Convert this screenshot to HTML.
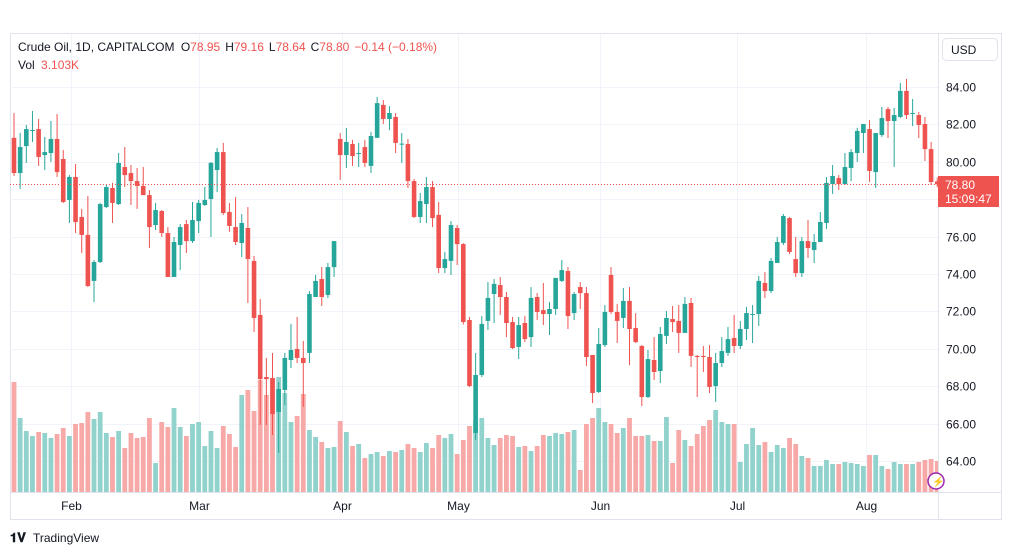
<!DOCTYPE html>
<html><head><meta charset="utf-8">
<style>
body{margin:0;background:#fff;width:1012px;height:555px;overflow:hidden;font-family:"Liberation Sans",sans-serif;}
svg{position:absolute;left:0;top:0}
</style></head>
<body>
<svg id="chart" width="1012" height="555" viewBox="0 0 1012 555">
  <defs><clipPath id="plotclip"><rect x="10" y="34" width="928" height="458"/></clipPath></defs>
  <rect x="10.5" y="33.5" width="991" height="486" fill="#fff" stroke="#e0e3eb"/>
  <g id="grid"></g>
  <g id="vol" clip-path="url(#plotclip)"></g>
  <g id="candles" clip-path="url(#plotclip)"></g>
  <line x1="10" y1="184.5" x2="938" y2="184.5" stroke="#ef5350" stroke-dasharray="1,2" stroke-width="1" id="lastline"/>
  <line x1="938.5" y1="33" x2="938.5" y2="520" stroke="#e0e3eb"/>
  <line x1="10" y1="492.5" x2="1001" y2="492.5" stroke="#e0e3eb"/>
  <g id="yaxis"></g>
  <g id="xaxis"></g>
  <g>
    <rect x="942.5" y="38.5" width="55" height="22" rx="4" fill="#fff" stroke="#e0e3eb"/>
    <text x="951" y="54" font-size="12" fill="#131722" font-family="Liberation Sans, sans-serif">USD</text>
  </g>
  <g id="lastlabel">
    <rect x="938" y="176" width="61" height="31" fill="#ef5350"/>
    <text x="945" y="189" font-size="12" fill="#fff" font-family="Liberation Sans, sans-serif">78.80</text>
    <text x="945" y="203" font-size="12" fill="#fff" font-family="Liberation Sans, sans-serif">15:09:47</text>
  </g>
  <text x="18" y="51" font-size="12" fill="#131722" font-family="Liberation Sans, sans-serif">Crude Oil, 1D, CAPITALCOM <tspan dx="3">O</tspan><tspan fill="#ef5350">78.95</tspan><tspan dx="5">H</tspan><tspan fill="#ef5350">79.16</tspan><tspan dx="5">L</tspan><tspan fill="#ef5350">78.64</tspan><tspan dx="5">C</tspan><tspan fill="#ef5350">78.80</tspan><tspan dx="5" fill="#ef5350">−0.14 (−0.18%)</tspan></text>
  <text x="18" y="69" font-size="12" fill="#131722" font-family="Liberation Sans, sans-serif">Vol <tspan dx="3" fill="#ef5350">3.103K</tspan></text>
  <g>
    <text x="10" y="542" font-size="13" font-weight="bold" fill="#131722" font-family="Liberation Sans, sans-serif">𝟏𝐕</text>
    <text x="33" y="542" font-size="12" fill="#131722" font-family="Liberation Sans, sans-serif">TradingView</text>
  </g>
  <g>
    <circle cx="936" cy="481" r="8" fill="#fff" stroke="#9c27b0" stroke-width="1.5"/>
    <text x="932" y="485" font-size="10" fill="#9c27b0">⚡</text>
  </g>
</svg>
<script>
const opens=[81.28,79.40,80.84,81.65,81.75,80.36,80.47,81.22,80.15,77.96,79.19,77.05,76.09,73.63,74.64,77.58,78.60,77.74,79.72,79.40,78.97,78.71,78.22,76.62,77.37,76.19,73.84,75.55,76.67,75.76,76.83,77.69,78.01,79.56,80.52,77.32,76.51,75.66,76.46,74.70,71.81,68.49,68.44,66.62,67.80,69.40,69.99,69.51,69.78,72.77,73.73,72.88,74.37,81.22,80.36,80.95,80.45,80.79,79.78,81.28,83.04,82.29,82.40,80.95,80.95,78.97,77.05,77.74,78.65,77.16,74.32,74.70,76.46,75.60,71.54,65.50,68.60,71.49,72.93,73.41,72.77,71.43,70.10,71.38,70.63,72.77,72.07,71.86,72.13,73.63,74.16,71.91,73.30,72.98,69.67,67.69,70.20,73.95,71.97,71.65,72.56,71.11,70.15,67.42,69.40,68.81,70.69,71.59,71.49,70.85,72.45,69.62,69.62,69.56,68.01,69.24,69.78,70.58,70.15,71.06,71.84,71.86,73.52,73.09,74.59,75.66,76.99,74.80,74.05,75.76,75.28,75.71,76.73,78.81,79.13,78.81,79.67,80.47,81.54,81.75,79.45,81.43,82.82,82.18,82.40,83.79,82.56,82.50,82.02,80.68,78.95];
const highs=[82.61,81.54,81.97,82.72,82.29,81.33,82.18,82.56,80.63,79.29,79.88,77.48,78.17,74.75,77.80,78.76,78.87,80.47,80.79,79.83,79.67,79.72,78.49,77.80,77.42,76.51,75.98,76.67,76.89,77.85,77.96,78.65,79.99,80.74,81.01,77.80,78.12,77.21,77.58,74.96,72.66,69.51,69.78,68.22,69.78,71.33,71.70,70.42,73.09,73.95,74.37,74.59,75.76,81.54,81.81,81.17,81.01,81.17,81.59,83.47,83.30,82.98,82.61,81.54,81.22,79.08,78.33,79.19,78.97,77.85,75.18,76.83,76.62,75.65,71.70,69.78,71.75,73.57,73.73,73.84,73.04,71.70,71.70,71.75,73.30,72.98,73.52,72.50,73.79,74.75,74.37,73.04,73.57,73.30,69.67,71.11,72.34,74.37,72.40,73.25,73.30,71.91,70.20,69.94,70.63,71.17,72.02,72.29,72.34,72.77,72.72,69.67,70.15,70.20,69.78,70.63,71.17,71.81,71.49,72.24,72.34,73.90,74.10,74.86,75.98,77.21,77.05,75.98,75.98,76.89,76.14,77.32,79.19,79.83,79.29,80.47,80.68,81.81,82.02,82.24,81.54,82.93,82.93,82.88,84.21,84.43,83.36,82.66,82.40,81.06,79.16];
const lows=[79.24,78.55,79.94,81.06,79.78,79.56,79.99,79.19,77.80,76.73,76.19,75.12,73.30,72.50,74.59,77.53,76.73,77.69,78.65,77.69,77.48,78.22,75.39,76.35,75.98,73.84,73.84,74.21,75.12,75.66,76.19,77.64,75.98,78.38,77.16,76.25,75.55,74.91,72.45,70.90,65.93,65.93,65.39,64.43,66.99,68.97,69.24,66.89,69.24,72.77,72.29,72.72,73.84,79.03,79.67,79.78,79.72,79.72,79.40,81.28,82.02,81.70,80.47,79.94,78.60,76.99,76.73,76.73,76.51,74.05,74.05,73.95,74.48,71.30,67.96,65.12,68.49,71.01,71.38,71.81,70.63,69.99,69.45,70.36,70.10,71.54,71.27,70.74,71.81,73.57,71.06,71.54,72.13,69.08,67.10,67.64,70.10,71.86,70.31,71.11,69.13,70.31,66.94,67.37,68.33,68.17,70.26,70.90,69.78,70.85,69.03,67.42,68.76,67.64,67.16,69.03,69.62,69.78,69.99,70.47,70.31,71.22,72.72,72.98,74.59,75.55,75.07,73.84,73.84,74.86,74.59,75.71,76.41,78.28,78.49,78.76,78.97,79.99,80.47,78.92,78.60,81.33,81.27,79.72,82.34,82.29,81.91,81.27,80.04,78.76,78.64];
const closes=[79.40,80.79,81.75,81.70,80.26,80.52,81.22,79.45,77.85,79.19,76.78,76.09,73.36,74.64,77.74,78.65,77.80,79.94,79.29,78.97,78.71,78.22,76.51,77.42,76.19,73.84,75.71,76.51,75.76,76.89,77.80,77.96,79.94,80.52,77.26,76.57,75.71,76.73,74.80,71.65,68.38,68.38,66.51,67.85,69.51,69.94,69.51,69.24,72.93,73.63,72.77,74.37,75.76,80.36,81.06,80.31,80.47,79.94,81.38,83.14,82.29,82.61,81.01,80.97,78.97,77.05,77.90,78.65,76.99,74.32,74.80,76.62,75.60,71.43,68.01,68.60,71.33,72.72,73.47,72.77,71.38,70.04,71.27,70.52,72.72,71.97,71.86,72.13,73.79,74.21,71.75,72.93,72.98,69.56,67.64,70.26,71.97,71.97,71.49,72.56,71.06,70.36,67.42,69.45,68.76,70.79,71.65,71.43,70.85,72.40,69.62,69.56,69.56,67.96,69.24,69.88,70.52,70.15,71.06,71.91,71.86,73.63,73.09,74.70,75.71,77.10,75.18,74.05,75.76,75.39,75.71,76.78,78.87,79.24,78.81,79.72,80.52,81.65,82.02,79.51,81.54,82.34,82.18,82.50,83.79,82.50,82.61,81.97,80.68,78.92,78.80];
const volumes=[11.0,7.4,6.1,5.6,6.0,5.9,5.4,5.8,6.4,5.6,6.8,6.9,8.0,7.3,8.0,5.9,5.5,6.1,4.4,5.9,5.4,5.5,7.4,2.9,7.0,6.5,8.4,6.5,5.6,6.8,7.0,4.6,6.1,4.4,6.6,5.8,4.5,9.7,10.2,8.1,11.2,9.7,11.4,11.5,9.9,7.0,7.6,9.8,6.2,5.5,5.0,4.4,4.5,7.1,6.0,4.6,4.8,3.4,3.8,4.0,3.6,4.1,4.0,4.2,4.8,4.4,4.0,4.9,4.4,5.7,5.4,5.8,3.8,5.2,6.6,7.2,7.4,5.4,4.7,5.4,5.7,5.6,4.5,4.6,4.1,4.6,5.7,5.6,5.9,5.8,6.0,6.2,2.2,6.8,7.4,8.4,7.0,6.8,5.9,6.4,7.4,5.6,5.6,5.7,5.1,5.1,7.5,2.9,6.2,5.2,4.6,5.8,6.6,7.2,8.2,7.0,6.8,6.8,3.0,4.8,6.4,4.7,5.0,4.0,4.7,4.4,5.4,4.8,3.6,3.4,2.6,2.6,3.2,2.8,2.8,3.0,2.9,2.8,2.6,3.7,3.7,2.6,2.3,3.0,2.8,2.8,2.8,3.0,3.2,3.3,3.1];
const priceTicks=[84,82,80,78,76,74,72,70,68,66,64];
const monthLabels=["Feb","Mar","Apr","May","Jun","Jul","Aug"];
const monthIndex=[9.3,30.1,53.3,72.2,95.2,117.4,138.4];

const NS="http://www.w3.org/2000/svg";
const UP="#26a69a",DN="#ef5350",UPV="#92d2cc",DNV="#f7a9a7";
function yScale(p){return 87+(84-p)*18.7;}
function xScale(i){return 14+i*6.155;}
function vScale(v){return 492-v*10;}
function mk(tag,attrs,parent){const e=document.createElementNS(NS,tag);for(const k in attrs)e.setAttribute(k,attrs[k]);parent.appendChild(e);return e;}

const grid=document.getElementById('grid');
const yaxis=document.getElementById('yaxis');
priceTicks.forEach(p=>{
  const y=Math.round(yScale(p))+0.5;
  const l=mk('line',{x1:10,x2:938,y1:y,y2:y,stroke:'#f0f3fa'},grid);
  
  
  const t=mk('text',{x:946,y:y+4,'font-size':12,fill:'#131722','font-family':'Liberation Sans, sans-serif'},yaxis);
  t.textContent=p.toFixed(2);
  
  
});
const xaxis=document.getElementById('xaxis');
monthLabels.forEach((m,k)=>{
  const x=Math.round(xScale(monthIndex[k]))+0.5;
  const l=mk('line',{x1:x,x2:x,y1:34,y2:492,stroke:'#f0f3fa'},grid);
  
  
  const t=mk('text',{x:x,y:510,'font-size':12,fill:'#131722','text-anchor':'middle','font-family':'Liberation Sans, sans-serif'},xaxis);
  t.textContent=m;
  
  
});

const vol=document.getElementById('vol');
const cg=document.getElementById('candles');
opens.forEach((o,i)=>{
  const c=closes[i],up=c>=o,x=xScale(i);
  const vb=mk('rect',{x:x-2.4,y:vScale(volumes[i]),width:4.8,height:492-vScale(volumes[i]),fill:up?UPV:DNV},vol);
  
  
  const g=mk('g',{},cg);
  
  
  mk('line',{x1:x,x2:x,y1:yScale(highs[i]),y2:yScale(lows[i]),stroke:up?UP:DN,'stroke-width':1},g);
  const top=yScale(Math.max(o,c)),bot=yScale(Math.min(o,c));
  mk('rect',{x:x-2.3,y:top,width:4.6,height:Math.max(1,bot-top),fill:up?UP:DN},g);
});
const ll=document.getElementById('lastline');
const ly=Math.round(yScale(closes[closes.length-1]))+0.5;
ll.setAttribute('y1',ly);ll.setAttribute('y2',ly);
</script>
</body></html>
